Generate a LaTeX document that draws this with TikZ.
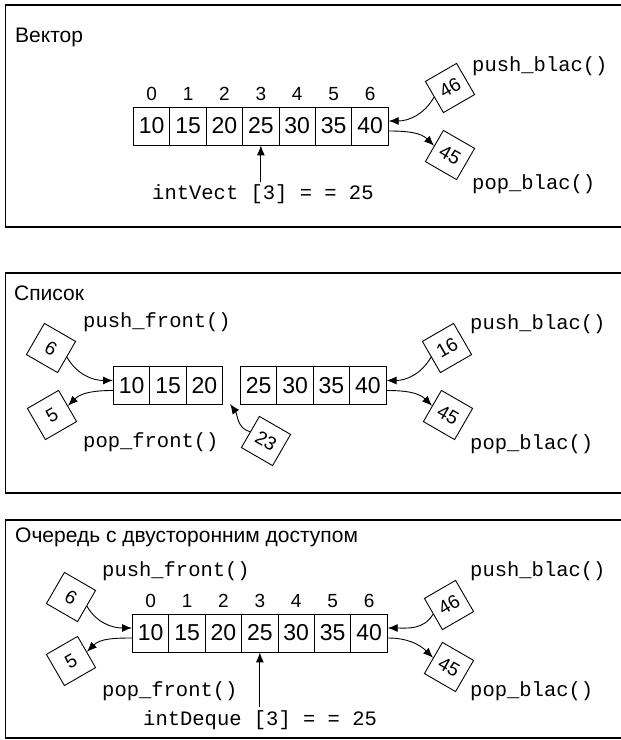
\documentclass[tikz,border=0pt]{standalone}
\usepackage{fontspec}
\setmainfont{Liberation Sans}
\newfontfamily\codefont{Liberation Mono}
\usetikzlibrary{arrows.meta,calc}
\tikzset{
  cell/.style={draw, line width=0.9pt, minimum width=36.4pt, minimum height=38pt, inner sep=0pt, font=\fontsize{23}{25}\selectfont, anchor=west},
  idx/.style={font=\fontsize{19}{21}\selectfont, inner sep=0pt, anchor=base},
  box/.style={draw, line width=0.9pt, minimum size=36pt, inner sep=0pt, font=\fontsize{19}{21}\selectfont},
  code/.style={font=\codefont\fontsize{20.5}{24}\selectfont, inner sep=0pt, anchor=base west},
  ttl/.style={font=\fontsize{21}{25}\selectfont, inner sep=0pt, anchor=base west},
  arr/.style={-{Latex[length=10pt,width=8pt]}, line width=0.9pt},
  frame/.style={line width=1.4pt}
}
\begin{document}
\begin{tikzpicture}[x=1pt,y=1pt]
\useasboundingbox (0,0) rectangle (621,740);
% ---------- frames ----------
\draw[frame] (621,735) -- (5.5,735) -- (5.5,513) -- (621,513);
\draw[frame] (621,467) -- (5.5,467) -- (5.5,247) -- (621,247);
\draw[frame] (621,220) -- (5.5,220) -- (5.5,2) -- (621,2);
% ---------- panel 1: vector ----------
\node[ttl] (t1) at (15,697) {Вектор};
\foreach \v [count=\i from 0] in {10,15,20,25,30,35,40} {
  \node[cell] (a\i) at ({133+\i*36.4},614) {\v};
  \node[idx] (ai\i) at ([yshift=6pt]a\i.north) {\i};
}
\node[code] (pb1) at (472,668) {push\_blac()};
\node[code] (ob1) at (472,550) {pop\_blac()};
\node[code] (iv) at (152,540) {intVect [3] = = 25};
\node[box, rotate=30] (a46) at (450,652) {46};
\node[box, rotate=-30] (a45) at (450,585) {45};
\draw[arr] (a46.west) to[out=240,in=0] ([yshift=5pt]a6.east);
\draw[arr] ([yshift=-5pt]a6.east) to[out=0,in=135] (a45.west);
\draw[arr] (a3.south |- iv.north) ++(0,3) -- (a3.south);
% ---------- panel 2: list ----------
\node[ttl] (t2) at (14,439) {Список};
\foreach \v [count=\i from 0] in {10,15,20} {
  \node[cell] (b\i) at ({113+\i*36.4},354.5) {\v};
}
\foreach \v [count=\i from 3] in {25,30,35,40} {
  \node[cell] (b\i) at ({240+(\i-3)*36.4},354.5) {\v};
}
\node[code] (pf2) at (83,412) {push\_front()};
\node[code] (pb2) at (470,410) {push\_blac()};
\node[code] (of2) at (83,292) {pop\_front()};
\node[code] (ob2) at (470,290) {pop\_blac()};
\node[box, rotate=-30] (b6l) at (51,392) {6};
\node[box, rotate=30] (b5l) at (52,325) {5};
\node[box, rotate=30] (b16) at (447,392) {16};
\node[box, rotate=-30] (b45) at (448,325) {45};
\node[box, rotate=-30] (b23) at (266,299) {23};
\coordinate (gap) at ($(b2.south east)+(7,1)$);
\draw[arr] (b6l.east) to[out=-60,in=180] ([yshift=5pt]b0.west);
\draw[arr] ([yshift=-5pt]b0.west) to[out=180,in=45] (b5l.east);
\draw[arr] (b16.west) to[out=240,in=0] ([yshift=5pt]b6.east);
\draw[arr] ([yshift=-5pt]b6.east) to[out=0,in=135] (b45.west);
\draw[arr] (b23.west) to[out=165,in=-55] (gap);
% ---------- panel 3: deque ----------
\node[ttl] (t3) at (15,197) {Очередь с двусторонним доступом};
\foreach \v [count=\i from 0] in {10,15,20,25,30,35,40} {
  \node[cell] (c\i) at ({132+\i*36.4},107) {\v};
  \node[idx] (ci\i) at ([yshift=6pt]c\i.north) {\i};
}
\node[code] (pf3) at (102,163) {push\_front()};
\node[code] (pb3) at (470,163) {push\_blac()};
\node[code] (of3) at (102,43) {pop\_front()};
\node[code] (ob3) at (470,43) {pop\_blac()};
\node[code] (id) at (143,15) {intDeque [3] = = 25};
\node[box, rotate=-30] (c6l) at (71,143) {6};
\node[box, rotate=30] (c5l) at (71,79) {5};
\node[box, rotate=30] (c46) at (449,135) {46};
\node[box, rotate=-30] (c45) at (449,73) {45};
\draw[arr] (c6l.east) to[out=-60,in=180] ([yshift=5pt]c0.west);
\draw[arr] ([yshift=-5pt]c0.west) to[out=180,in=45] (c5l.east);
\draw[arr] (c46.west) to[out=240,in=0] ([yshift=5pt]c6.east);
\draw[arr] ([yshift=-5pt]c6.east) to[out=0,in=135] (c45.west);
\draw[arr] (c3.south |- id.north) ++(0,3) -- (c3.south);
\end{tikzpicture}
\end{document}
